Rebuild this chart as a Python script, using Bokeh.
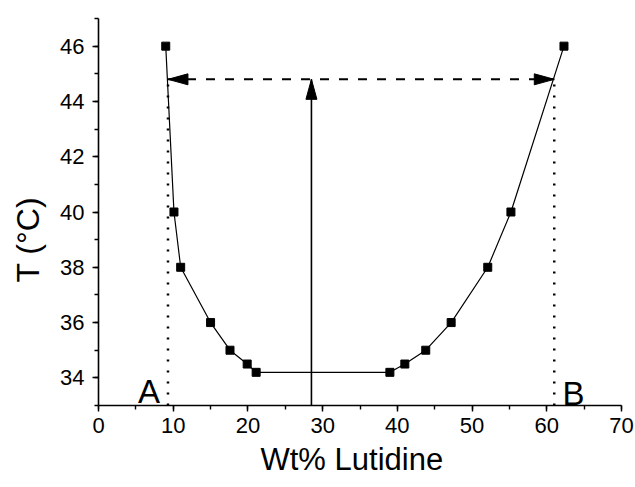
from bokeh.plotting import figure
from bokeh.models import Range1d, SingleIntervalTicker, Title
from bokeh.embed import file_html
from bokeh.resources import INLINE
from bokeh.core.properties import value

# ---- data ----
wt_pct = [9.0, 10.1, 11.0, 15.0, 17.6, 19.9, 21.1,
          39.0, 41.0, 43.8, 47.2, 52.1, 55.2, 62.3]
temp_c = [46.0, 40.0, 38.0, 36.0, 35.0, 34.5, 34.2,
          34.2, 34.5, 35.0, 36.0, 38.0, 40.0, 46.0]

tie_T = 44.8          # tie-line temperature
x_A = 9.3             # composition of phase A
x_B = 61.0            # composition of phase B
x_overall = 28.5      # overall composition
phase_names = ["A", "B"]
phase_label_x = [5.3, 62.1]
phase_label_y = [33.5, 33.45]

x_ticks_major = 10
y_ticks_major = 2

FONT = "Liberation Sans"
W, H = 635, 487
BL, BR, BT, BB = 97, 14, 18, 82
XMIN, XMAX, YMIN, YMAX = 0, 70, 33, 47

p = figure(width=W, height=H, output_backend="svg", toolbar_location=None,
           x_range=Range1d(XMIN, XMAX), y_range=Range1d(YMIN, YMAX),
           min_border_left=BL, min_border_right=BR,
           min_border_top=BT, min_border_bottom=BB)
p.outline_line_color = None
p.xgrid.visible = False
p.ygrid.visible = False
p.background_fill_color = "white"

p.xaxis.ticker = SingleIntervalTicker(interval=x_ticks_major, num_minor_ticks=2)
p.yaxis.ticker = SingleIntervalTicker(interval=y_ticks_major, num_minor_ticks=2)
for ax in (p.xaxis[0], p.yaxis[0]):
    ax.axis_line_width = 1.6
    ax.axis_line_color = "black"
    ax.major_tick_line_color = "black"
    ax.minor_tick_line_color = "black"
    ax.major_tick_line_width = 1.4
    ax.minor_tick_line_width = 1.4
    ax.major_tick_in = 0
    ax.major_tick_out = 6
    ax.minor_tick_in = 0
    ax.minor_tick_out = 4
    ax.major_label_text_font = FONT
    ax.major_label_text_font_size = "22px"
    ax.major_label_text_color = "black"
p.xaxis.major_label_standoff = 6
p.yaxis.major_label_standoff = 8

# pixel scale for arrow heads
fw = W - BL - BR
fh = H - BT - BB
sx = fw / (XMAX - XMIN)
sy = fh / (YMAX - YMIN)
head_len, head_w = 20, 11

# coexistence curve
p.line(wt_pct, temp_c, line_color="black", line_width=1.2)
p.scatter(wt_pct, temp_c, marker="square", size=8, fill_color="black",
          line_color="black")

# dotted verticals
p.segment(x0=[x_A, x_B], y0=[YMIN, YMIN], x1=[x_A, x_B], y1=[tie_T, tie_T],
          line_color="black", line_width=2.5, line_dash="2 9")
# dashed tie line
p.line([x_A, x_B], [tie_T, tie_T], line_color="black", line_width=2,
       line_dash="9 10")
# overall composition vertical arrow
p.line([x_overall, x_overall], [YMIN, tie_T], line_color="black", line_width=1.6)

hx = head_len / sx
hy = head_w / 2 / sy
vx = head_w / 2 / sx
vy = head_len / sy
p.patches(
    xs=[[x_A, x_A + hx, x_A + hx],
        [x_B, x_B - hx, x_B - hx],
        [x_overall, x_overall - vx, x_overall + vx]],
    ys=[[tie_T, tie_T + hy, tie_T - hy],
        [tie_T, tie_T + hy, tie_T - hy],
        [tie_T, tie_T - vy, tie_T - vy]],
    fill_color="black", line_color="black", line_width=1)

p.text(x=phase_label_x, y=phase_label_y, text=phase_names,
       text_font=value(FONT), text_font_size="33px",
       text_align="left", text_baseline="alphabetic", text_color="black")

# axis titles (as side titles, so they can be shifted along the axis)
p.add_layout(Title(text="Wt% Lutidine", align="left", offset=162,
                   vertical_align="bottom",
                   text_font=FONT, text_font_size="31px",
                   text_font_style="normal", text_color="black",
                   standoff=8), "below")
p.add_layout(Title(text="T (°C)", align="left", offset=123,
                   vertical_align="top",
                   text_font=FONT, text_font_size="32px",
                   text_font_style="normal", text_color="black",
                   standoff=19), "left")

open("out.html", "w").write(file_html(p, INLINE))
